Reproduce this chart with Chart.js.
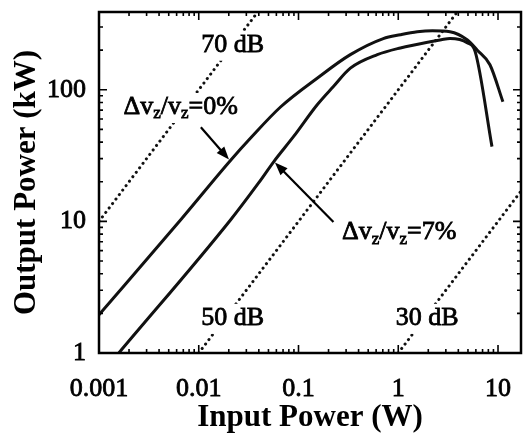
<!DOCTYPE html>
<html>
<head>
<meta charset="utf-8">
<script src="https://cdn.jsdelivr.net/npm/chart.js@4.4.0/dist/chart.umd.min.js"></script>
<style>
  html, body { margin: 0; padding: 0; background: #fff; }
  #wrap { width: 528px; height: 435px; position: relative; }
</style>
</head>
<body>
<div id="wrap"><canvas id="chart"></canvas></div>
<script>
// curve: input power (W) -> output power (kW)
const pinFlat = [0.001, 0.0066, 0.021, 0.0331, 0.066, 0.155, 0.331, 0.708, 1.05, 1.55, 2.2, 3.3, 4.9, 6.2, 8.3, 11.2];
const poutFlat = [1.95, 10.3, 29.3, 43, 74, 123, 185, 245, 262, 276, 281, 276, 240, 200, 155, 81];

const pinSpread = [0.00158, 0.0209, 0.0398, 0.0566, 0.089, 0.154, 0.224, 0.331, 0.617, 1.05, 2.09, 2.7, 3.3, 4.9, 5.9, 8.7];
const poutSpread = [1, 10.3, 19.6, 28.5, 44, 77, 106, 146, 185, 208, 232, 240, 245, 228, 195, 37];

// constant gain guide lines (end points, clipped by the plot)
const gain70In = [0.001, 0.1];
const gain70Out = [10, 1000];
const gain50In = [0.01, 10];
const gain50Out = [1, 1000];
const gain30In = [1, 100];
const gain30Out = [1, 100];

// tick labels
const xTicks = [0.001, 0.01, 0.1, 1, 10];
const yTicks = [1, 10, 100];

const serif = "'Liberation Serif', 'DejaVu Serif', serif";

function toPoints(xs, ys) {
  return xs.map((v, i) => ({ x: v, y: ys[i] }));
}

function withMinors(majors, min, max) {
  const out = [];
  majors.concat([majors[majors.length - 1] * 10]).forEach(d => {
    for (let k = 1; k <= 9; k++) {
      const v = d * k;
      if (v >= min * 0.999 && v <= max * 1.001) out.push({ value: v });
    }
  });
  return out;
}

// labels on the plot, placed in data units
const notes = [
  { parts: [['70 dB', 0]], x: 0.0219, y: 220 },
  { parts: [['50 dB', 0]], x: 0.0219, y: 1.85 },
  { parts: [['30 dB', 0]], x: 1.95, y: 1.85 },
  { parts: [['\u0394v', 0], ['z', 1], ['/v', 0], ['z', 1], ['=0%', 0]], x: 0.0066, y: 74 },
  { parts: [['\u0394v', 0], ['z', 1], ['/v', 0], ['z', 1], ['=7%', 0]], x: 1.02, y: 8.3 }
];
const arrows = [
  { from: [0.0105, 52], to: [0.0201, 29.5] },
  { from: [0.224, 9.9], to: [0.058, 28] }
];

const decor = {
  id: 'decor',
  afterDatasetsDraw(chart) {
    const { ctx, chartArea: a, scales: { x, y } } = chart;
    ctx.save();
    ctx.beginPath();
    ctx.rect(a.left, a.top, a.right - a.left, a.bottom - a.top);
    ctx.clip();

    // text with white backing
    notes.forEach(n => {
      const cx = x.getPixelForValue(n.x);
      const cy = y.getPixelForValue(n.y);
      let w = 0;
      n.parts.forEach(p => {
        ctx.font = p[1] ? '17px ' + serif : '26px ' + serif;
        w += ctx.measureText(p[0]).width;
      });
      ctx.fillStyle = '#fff';
      ctx.fillRect(cx - w / 2 - 3, cy - 14, w + 6, 30);
      ctx.fillStyle = '#000';
      ctx.strokeStyle = '#000';
      ctx.lineWidth = 0.8;
      ctx.textBaseline = 'middle';
      ctx.textAlign = 'left';
      let px = cx - w / 2;
      n.parts.forEach(p => {
        ctx.font = p[1] ? '17px ' + serif : '26px ' + serif;
        ctx.fillText(p[0], px, cy + (p[1] ? 7 : 0));
        ctx.strokeText(p[0], px, cy + (p[1] ? 7 : 0));
        px += ctx.measureText(p[0]).width;
      });
    });

    // arrows
    ctx.strokeStyle = '#000';
    ctx.fillStyle = '#000';
    ctx.lineWidth = 2.2;
    arrows.forEach(ar => {
      const x0 = x.getPixelForValue(ar.from[0]), y0 = y.getPixelForValue(ar.from[1]);
      const x1 = x.getPixelForValue(ar.to[0]), y1 = y.getPixelForValue(ar.to[1]);
      const ang = Math.atan2(y1 - y0, x1 - x0);
      ctx.beginPath();
      ctx.moveTo(x0, y0);
      ctx.lineTo(x1 - 8 * Math.cos(ang), y1 - 8 * Math.sin(ang));
      ctx.stroke();
      ctx.beginPath();
      ctx.moveTo(x1, y1);
      ctx.lineTo(x1 - 13 * Math.cos(ang) + 5 * Math.sin(ang), y1 - 13 * Math.sin(ang) - 5 * Math.cos(ang));
      ctx.lineTo(x1 - 13 * Math.cos(ang) - 5 * Math.sin(ang), y1 - 13 * Math.sin(ang) + 5 * Math.cos(ang));
      ctx.closePath();
      ctx.fill();
    });
    ctx.restore();

    // frame and inward ticks on all four sides
    ctx.save();
    ctx.strokeStyle = '#000';
    ctx.lineWidth = 2.5;
    ctx.strokeRect(a.left, a.top, a.right - a.left, a.bottom - a.top);
    ctx.lineWidth = 1.6;
    ctx.beginPath();
    x.ticks.forEach(t => {
      const px = x.getPixelForValue(t.value);
      const len = xTicks.includes(t.value) ? 8 : 4;
      ctx.moveTo(px, a.bottom); ctx.lineTo(px, a.bottom - len);
      ctx.moveTo(px, a.top); ctx.lineTo(px, a.top + len);
    });
    y.ticks.forEach(t => {
      const py = y.getPixelForValue(t.value);
      const len = yTicks.includes(t.value) ? 8 : 4;
      ctx.moveTo(a.left, py); ctx.lineTo(a.left + len, py);
      ctx.moveTo(a.right, py); ctx.lineTo(a.right - len, py);
    });
    ctx.stroke();
    ctx.restore();
  }
};

const curveStyle = {
  borderColor: '#111',
  borderWidth: 3,
  pointRadius: 0,
  cubicInterpolationMode: 'monotone',
  fill: false
};
const dotStyle = {
  borderColor: '#111',
  borderWidth: 3,
  borderDash: [0.1, 5.5],
  borderCapStyle: 'round',
  pointRadius: 0,
  fill: false
};

new Chart(document.getElementById('chart'), {
  type: 'line',
  data: {
    datasets: [
      Object.assign({ label: '70 dB', data: toPoints(gain70In, gain70Out) }, dotStyle),
      Object.assign({ label: '50 dB', data: toPoints(gain50In, gain50Out) }, dotStyle),
      Object.assign({ label: '30 dB', data: toPoints(gain30In, gain30Out) }, dotStyle),
      Object.assign({ label: '0%', data: toPoints(pinFlat, poutFlat) }, curveStyle),
      Object.assign({ label: '7%', data: toPoints(pinSpread, poutSpread) }, curveStyle)
    ]
  },
  options: {
    responsive: true,
    maintainAspectRatio: false,
    animation: false,
    layout: { padding: { top: 12, right: 7, left: 0, bottom: 0 } },
    plugins: {
      legend: { display: false },
      tooltip: { enabled: false }
    },
    scales: {
      x: {
        type: 'logarithmic',
        min: 0.001,
        max: 17,
        afterBuildTicks: s => { s.ticks = withMinors(xTicks, 0.001, 17); },
        afterFit: s => { s.height = 82; s.paddingLeft = 0; s.paddingRight = 0; },
        grid: { display: false, drawTicks: false },
        border: { display: false },
        ticks: {
          autoSkip: false,
          maxRotation: 0,
          padding: 21,
          color: '#000',
          textStrokeColor: '#000',
          textStrokeWidth: 0.8,
          font: { family: serif, size: 26 },
          callback: v => xTicks.includes(v) ? String(v) : ''
        },
        title: {
          display: true,
          text: 'Input Power (W)',
          color: '#000',
          font: { family: serif, size: 31, weight: 'bold', lineHeight: 1.1 },
          padding: { top: 0, bottom: 0 }
        }
      },
      y: {
        type: 'logarithmic',
        min: 1,
        max: 390,
        afterBuildTicks: s => { s.ticks = withMinors(yTicks, 1, 390); },
        afterFit: s => { s.width = 99; s.paddingTop = 0; s.paddingBottom = 0; },
        grid: { display: false, drawTicks: false },
        border: { display: false },
        ticks: {
          autoSkip: false,
          padding: 13,
          color: '#000',
          textStrokeColor: '#000',
          textStrokeWidth: 0.8,
          font: { family: serif, size: 26 },
          callback: v => yTicks.includes(v) ? String(v) : ''
        },
        title: {
          display: true,
          text: 'Output Power (kW)',
          color: '#000',
          font: { family: serif, size: 31, weight: 'bold', lineHeight: 1.1 },
          padding: { top: 10, bottom: 0 }
        }
      }
    }
  },
  plugins: [decor]
});
</script>
</body>
</html>
